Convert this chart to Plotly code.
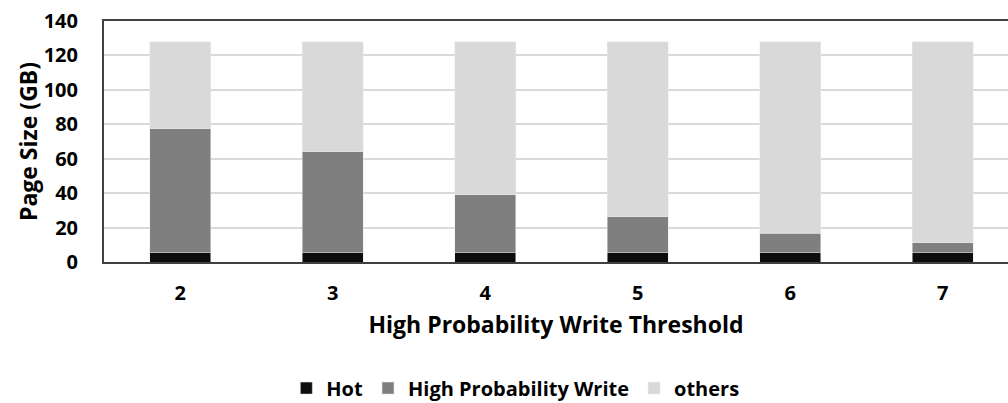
import plotly.graph_objects as go

thresholds = ["2", "3", "4", "5", "6", "7"]
hot = [5.8, 5.8, 5.8, 5.8, 5.8, 5.8]
high_prob_write = [71.5, 58.3, 33.3, 20.5, 10.9, 5.4]
others = [50.7, 63.9, 88.9, 101.7, 111.3, 116.8]

font_family = "'Open Sans', Lato, sans-serif"

fig = go.Figure()
fig.add_trace(go.Bar(x=thresholds, y=hot, name="<b>Hot</b>", marker=dict(color="#0d0d0d"), width=0.4))
fig.add_trace(go.Bar(x=thresholds, y=high_prob_write, name="<b>High Probability Write</b>", marker=dict(color="#7f7f7f"), width=0.4))
fig.add_trace(go.Bar(x=thresholds, y=others, name="<b>others</b>", marker=dict(color="#d9d9d9"), width=0.4))

fig.update_layout(
    barmode="stack",
    width=1008, height=403,
    margin=dict(l=104, r=0, t=21, b=141, autoexpand=False),
    plot_bgcolor="white", paper_bgcolor="white",
    font=dict(family=font_family, color="black", size=20),
    showlegend=True,
    legend=dict(orientation="h", x=0.455, xanchor="center",
                yref="container", y=0.037, yanchor="middle",
                font=dict(size=20, family=font_family), itemwidth=30, traceorder="normal"),
    bargap=0.6,
)
fig.update_xaxes(
    type="category",
    range=[-0.5, 5.428],
    automargin=False,
    showline=True, linecolor="#404040", linewidth=2, mirror=True,
    ticks="", tickfont=dict(size=20, family=font_family),
    ticklabelstandoff=12,
    tickprefix="<b>", ticksuffix="</b>",
    title=dict(text="<b>High Probability Write Threshold</b>", font=dict(size=23, family=font_family), standoff=12),
)
fig.update_yaxes(
    range=[0, 140], dtick=20,
    automargin=False,
    showgrid=True, gridcolor="#d9d9d9", gridwidth=2,
    showline=True, linecolor="#404040", linewidth=2, mirror=True,
    zeroline=False,
    ticks="", tickfont=dict(size=20, family=font_family),
    ticklabelstandoff=20,
    tickprefix="<b>", ticksuffix="</b>",
    title=dict(text="<b>Page Size (GB)</b>", font=dict(size=23, family=font_family), standoff=0),
)

fig.write_html("out.html")
